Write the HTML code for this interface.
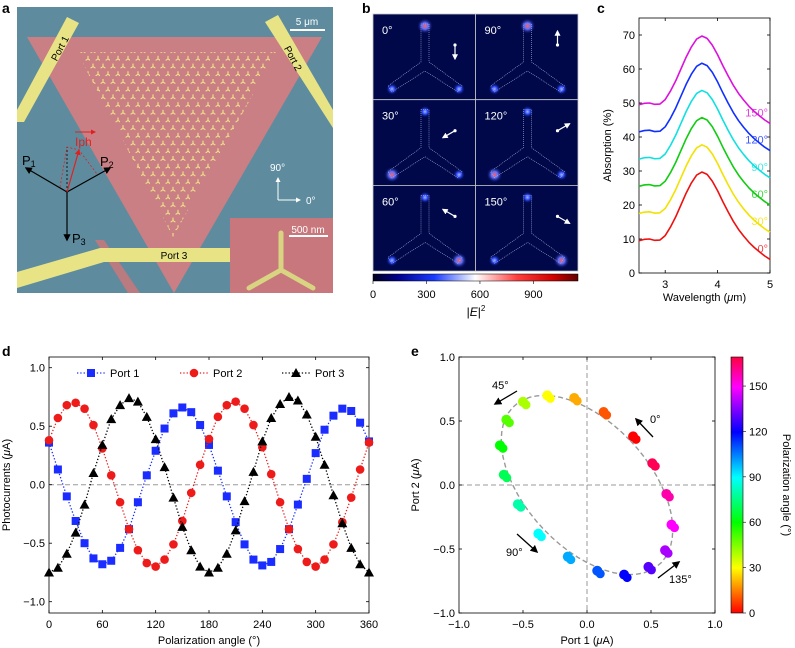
<!DOCTYPE html>
<html><head><meta charset="utf-8">
<style>
html,body{margin:0;padding:0;background:#fff;}
svg{display:block;font-family:"Liberation Sans",Arial,sans-serif;}
</style></head>
<body>
<svg id="fig" width="795" height="648" viewBox="0 0 795 648" xmlns="http://www.w3.org/2000/svg">
<defs>
  <pattern id="trimers" x="0" y="0" width="10" height="15.4" patternUnits="userSpaceOnUse">
    <g stroke="#f2e68a" stroke-width="1.1" fill="none">
      <path d="M3,2 L3,5 M3,5 L0.6,6.5 M3,5 L5.4,6.5"/>
      <path d="M8,9.7 L8,12.7 M8,12.7 L5.6,14.2 M8,12.7 L10.4,14.2"/>
    </g>
  </pattern>
  <linearGradient id="ebar" x1="0" x2="1" y1="0" y2="0">
    <stop offset="0" stop-color="#000020"/>
    <stop offset="0.12" stop-color="#00008a"/>
    <stop offset="0.3" stop-color="#1a3cff"/>
    <stop offset="0.5" stop-color="#ffffff"/>
    <stop offset="0.7" stop-color="#ff4040"/>
    <stop offset="0.88" stop-color="#d00000"/>
    <stop offset="1" stop-color="#600000"/>
  </linearGradient>
  <linearGradient id="pbar" x1="0" x2="0" y1="1" y2="0">
    <stop offset="0" stop-color="#ff0000"/>
    <stop offset="0.176" stop-color="#ffff00"/>
    <stop offset="0.353" stop-color="#00ff00"/>
    <stop offset="0.529" stop-color="#00ffff"/>
    <stop offset="0.706" stop-color="#0000ff"/>
    <stop offset="0.882" stop-color="#ff00ff"/>
    <stop offset="1" stop-color="#ff0040"/>
  </linearGradient>
  <radialGradient id="glowB"><stop offset="0" stop-color="#aab8ff"/><stop offset="0.4" stop-color="#3050ff"/><stop offset="1" stop-color="#000a60" stop-opacity="0"/></radialGradient>
  <radialGradient id="glowR"><stop offset="0" stop-color="#ff6060"/><stop offset="0.4" stop-color="#6070ff"/><stop offset="1" stop-color="#000a60" stop-opacity="0"/></radialGradient>
  <marker id="ahK" viewBox="0 0 10 10" refX="8" refY="5" markerWidth="6" markerHeight="6" orient="auto"><path d="M0,0 L10,5 L0,10 z" fill="#000"/></marker>
  <marker id="ahW" viewBox="0 0 10 10" refX="8" refY="5" markerWidth="5" markerHeight="5" orient="auto"><path d="M0,0 L10,5 L0,10 z" fill="#fff"/></marker>
  <marker id="ahR" viewBox="0 0 10 10" refX="8" refY="5" markerWidth="5" markerHeight="5" orient="auto"><path d="M0,0 L10,5 L0,10 z" fill="#e02020"/></marker>
  <clipPath id="photoClip"><rect x="17" y="7" width="316" height="286"/></clipPath>
</defs>

<!-- Panel a -->
<text x="2" y="13" font-size="14" font-weight="bold">a</text>
<g clip-path="url(#photoClip)">
  <rect x="17" y="7" width="316" height="286" fill="#5e8c9e"/>
  <polygon points="27,37 322,37 174,293" fill="#c97f83"/>
  <polygon points="95,240 104,240 140,293 128,293" fill="#b97a80"/>
  <polygon points="77,52 277,52 173,237" fill="url(#trimers)"/>
  <polygon points="67,17 79,23 24,122 17,122 17,110" fill="#e8e486"/>
  <polygon points="265,22 278,15 333,110 333,128" fill="#e8e486"/>
  <polygon points="17,272 100,248 230,248 230,262 104,262 17,288" fill="#e8e486"/>
  <rect x="230" y="218" width="103" height="75" fill="#c8777c"/>
  <g stroke="#d8d482" stroke-width="5" stroke-linecap="round" fill="none">
    <path d="M281,233 L281,270 M281,270 L249,288 M281,270 L313,288"/>
  </g>
  <line x1="289" y1="236" x2="328" y2="236" stroke="#fff" stroke-width="2"/>
  <text x="308" y="233" font-size="10" fill="#fff" text-anchor="middle">500 nm</text>
  <line x1="290" y1="30" x2="325" y2="30" stroke="#fff" stroke-width="2"/>
  <text x="307" y="25" font-size="10" fill="#fff" text-anchor="middle">5 μm</text>
  <text transform="translate(63,50) rotate(-62)" font-size="10" text-anchor="middle">Port 1</text>
  <text transform="translate(290,60) rotate(62)" font-size="10" text-anchor="middle">Port 2</text>
  <text x="174" y="259" font-size="10" text-anchor="middle">Port 3</text>
  <g>
    <line x1="278" y1="200" x2="278" y2="178" stroke="#fff" stroke-width="1" marker-end="url(#ahW)"/>
    <line x1="278" y1="200" x2="300" y2="200" stroke="#fff" stroke-width="1" marker-end="url(#ahW)"/>
    <text x="270" y="171" font-size="10" fill="#fff">90°</text>
    <text x="306" y="204" font-size="10" fill="#fff">0°</text>
  </g>
  <g>
    <line x1="67" y1="192" x2="26" y2="168" stroke="#000" stroke-width="1.2" marker-end="url(#ahK)"/>
    <line x1="67" y1="192" x2="110" y2="168" stroke="#000" stroke-width="1.2" marker-end="url(#ahK)"/>
    <line x1="67" y1="192" x2="67" y2="240" stroke="#000" stroke-width="1.2" marker-end="url(#ahK)"/>
    <line x1="67" y1="192" x2="67" y2="147" stroke="#000" stroke-width="0.8" stroke-dasharray="2,2"/>
    <polyline points="60,187 67,147 79,150 97,174" fill="none" stroke="#e02020" stroke-width="0.8" stroke-dasharray="2,2"/>
    <line x1="67" y1="192" x2="79" y2="150" stroke="#e02020" stroke-width="1.2" marker-end="url(#ahR)"/>
    <text x="22" y="165" font-size="13">P<tspan font-size="9" dy="2">1</tspan></text>
    <text x="100" y="166" font-size="13">P<tspan font-size="9" dy="2">2</tspan></text>
    <text x="72" y="243" font-size="13">P<tspan font-size="9" dy="2">3</tspan></text>
    <text x="75" y="146" font-size="12" fill="#e02020">Iph</text>
    <line x1="75" y1="132" x2="95" y2="132" stroke="#e02020" stroke-width="1" marker-end="url(#ahR)"/>
  </g>
</g>

<!-- Panel b -->
<text x="362" y="13" font-size="14" font-weight="bold">b</text>
<g id="panelB"></g>
<rect x="373" y="274" width="205" height="7" fill="url(#ebar)" stroke="#000" stroke-width="0.5"/>
<g id="ebarTicks" font-size="11" text-anchor="middle"></g>
<text x="476" y="316" font-size="12" text-anchor="middle">|<tspan font-style="italic">E</tspan>|<tspan font-size="8" dy="-5">2</tspan></text>

<!-- Panel c -->
<text x="597" y="13" font-size="14" font-weight="bold">c</text>
<g id="panelC"></g>

<!-- Panel d -->
<text x="2" y="356" font-size="14" font-weight="bold">d</text>
<g id="panelD"></g>

<!-- Panel e -->
<text x="411" y="356" font-size="14" font-weight="bold">e</text>
<g id="panelE"></g>
</svg>

<script>
const NS = "http://www.w3.org/2000/svg";
function mk(tag, attrs, parent) {
  const el = document.createElementNS(NS, tag);
  for (const k in attrs) el.setAttribute(k, attrs[k]);
  parent.appendChild(el);
  return el;
}

// ---------- Panel b data ----------
const fieldAngles = [0, 90, 30, 120, 60, 150];
const fieldTicks = [0, 300, 600, 900];

// ---------- Panel c data ----------
const wavelengths = [2.5,2.6,2.7,2.8,2.9,3.0,3.1,3.2,3.3,3.4,3.5,3.6,3.7,3.8,3.9,4.0,4.1,4.2,4.3,4.4,4.5,4.6,4.7,4.8,4.9,5.0];
const absorptionBase = [9.5,9.9,10,9.6,9.7,11,13.5,16.5,20,23.5,26.5,28.8,29.7,29,27,24.2,21,18,15.2,12.8,10.8,9,7.5,6.2,5,4];
const absorptionOffsets = [0, 8, 16, 24, 32, 40];
const absorptionLabels = ["0°","30°","60°","90°","120°","150°"];
const absorptionColors = ["#ee1111","#f2e200","#11cc11","#11e0e0","#1030ff","#dd11dd"];
const cYTicks = [0,10,20,30,40,50,60,70];
const cXTicks = [3,4,5];

// ---------- Panel d data ----------
const polAngles = [0,10,20,30,40,50,60,70,80,90,100,110,120,130,140,150,160,170,180,190,200,210,220,230,240,250,260,270,280,290,300,310,320,330,340,350,360];
const port1 = [0.36,0.13,-0.10,-0.31,-0.50,-0.63,-0.68,-0.65,-0.54,-0.38,-0.15,0.08,0.29,0.48,0.61,0.66,0.62,0.51,0.34,0.12,-0.10,-0.32,-0.51,-0.64,-0.69,-0.66,-0.55,-0.38,-0.17,0.05,0.27,0.47,0.59,0.65,0.63,0.53,0.37];
const port2 = [0.38,0.57,0.68,0.70,0.65,0.51,0.31,0.08,-0.15,-0.38,-0.56,-0.67,-0.70,-0.64,-0.51,-0.31,-0.07,0.17,0.39,0.58,0.68,0.71,0.65,0.51,0.32,0.09,-0.15,-0.38,-0.55,-0.66,-0.70,-0.64,-0.51,-0.32,-0.11,0.13,0.36];
const port3 = [-0.75,-0.71,-0.59,-0.41,-0.17,0.10,0.34,0.56,0.68,0.74,0.71,0.58,0.39,0.15,-0.11,-0.36,-0.56,-0.70,-0.75,-0.71,-0.59,-0.39,-0.14,0.11,0.37,0.57,0.69,0.75,0.72,0.60,0.41,0.17,-0.09,-0.33,-0.54,-0.68,-0.75];
const dXTicks = [0,60,120,180,240,300,360];
const dYTicks = [-1.0,-0.5,0.0,0.5,1.0];
const dYTickLabels = ["\u22121.0","\u22120.5","0.0","0.5","1.0"];

// ---------- Panel e data ----------
const eAngleCount = 18; // angles 0..170 taken from polAngles
const eFitAmp = [0.67, 0.70];
const eFitPeak = [150, 30];
const eTicks = [-1.0,-0.5,0.0,0.5,1.0];
const eTickLabels = ["\u22121.0","\u22120.5","0.0","0.5","1.0"];
const cbTicks = [0,30,60,90,120,150];

// ======== Panel b render ========
(function(){
  const g = document.getElementById('panelB');
  const x0 = 373, y0 = 14, w = 102.5, h = 85.7;
  fieldAngles.forEach((ang, i) => {
    const col = i % 2, row = Math.floor(i / 2);
    const tx = x0 + col * w, ty = y0 + row * h;
    const tile = mk('g', {transform:`translate(${tx},${ty})`}, g);
    
    
    mk('rect', {x:0, y:0, width:w, height:h, fill:'#00084a', stroke:'#c8c8c8', 'stroke-width':0.8}, tile);
    // glows at arm ends
    const ends = [[52,12],[19,75],[86,75]];
    const a2 = ang * 2 * Math.PI / 180;
    const pol = [-Math.sin(a2), Math.cos(a2)];
    const arms = [[0,-1],[-0.87,0.5],[0.87,0.5]];
    arms.forEach((v, k) => {
      const s = Math.abs(v[0]*pol[0] + v[1]*pol[1]);
      if (s > 0.45) {
        mk('circle', {cx:ends[k][0], cy:ends[k][1], r:4 + 4*s, fill: s > 0.95 ? 'url(#glowR)' : 'url(#glowB)'}, tile);
      }
    });
    mk('path', {d:'M48,10 L56,10 L56,48 L89,72 L85,78 L52,57 L19,78 L15,72 L48,48 Z', fill:'none', stroke:'#aeb4e0', 'stroke-width':0.6, 'stroke-dasharray':'1,1'}, tile);
    const lab = mk('text', {x:9, y:20, 'font-size':11, fill:'#fff'}, tile);
    lab.textContent = ang + '°';
    
    
    const dx = 82, dy = 31;
    mk('circle', {cx:dx, cy:dy, r:1.6, fill:'#fff'}, tile);
    mk('line', {x1:dx, y1:dy, x2:dx + 14*pol[0], y2:dy + 14*pol[1], stroke:'#fff', 'stroke-width':1.2, 'marker-end':'url(#ahW)'}, tile);
  });
  const tg = document.getElementById('ebarTicks');
  fieldTicks.forEach(t => {
    const x = 373 + t / 1150 * 205;
    mk('line', {x1:x, y1:281, x2:x, y2:284, stroke:'#000', 'stroke-width':0.6}, tg);
    const tt = mk('text', {x:x, y:298}, tg);
    tt.textContent = t;
    
    
  });
})();

// ======== Panel c render ========
(function(){
  const g = document.getElementById('panelC');
  const L = 639, R = 770, T = 18, B = 273;
  const xs = v => L + (v - 2.5) / 2.5 * (R - L);
  const ys = v => B - v / 75 * (B - T);
  const frame = mk('rect', {x:L, y:T, width:R-L, height:B-T, fill:'none', stroke:'#000', 'stroke-width':0.8}, g);
  
  
  cYTicks.forEach(t => {
    const y = ys(t);
    mk('line', {x1:L, y1:y, x2:L+3, y2:y, stroke:'#000', 'stroke-width':0.8}, g);
    mk('line', {x1:R, y1:y, x2:R-3, y2:y, stroke:'#000', 'stroke-width':0.8}, g);
    const tt = mk('text', {x:L-4, y:y+4, 'font-size':11, 'text-anchor':'end'}, g);
    tt.textContent = t;
    
    
  });
  cXTicks.forEach(t => {
    const x = xs(t);
    mk('line', {x1:x, y1:B, x2:x, y2:B-3, stroke:'#000', 'stroke-width':0.8}, g);
    mk('line', {x1:x, y1:T, x2:x, y2:T+3, stroke:'#000', 'stroke-width':0.8}, g);
    const tt = mk('text', {x:x, y:B+15, 'font-size':11, 'text-anchor':'middle'}, g);
    tt.textContent = t;
    
    
  });
  absorptionOffsets.forEach((off, i) => {
    const pts = wavelengths.map((w, k) => xs(w) + ',' + ys(absorptionBase[k] + off)).join(' ');
    const pl = mk('polyline', {points:pts, fill:'none', stroke:absorptionColors[i], 'stroke-width':1.6, 'stroke-linejoin':'round'}, g);
    
    
    const endVal = absorptionBase[absorptionBase.length-1] + off;
    const lb = mk('text', {x:R-2, y:ys(endVal) - 7, 'font-size':11, 'text-anchor':'end', fill:absorptionColors[i], 'fill-opacity':0.8}, g);
    lb.textContent = absorptionLabels[i];
    
    
  });
  const yl = mk('text', {transform:`translate(611,${(T+B)/2}) rotate(-90)`, 'font-size':11, 'text-anchor':'middle'}, g);
  yl.textContent = 'Absorption (%)';
  
  
  const xl = mk('text', {x:(L+R)/2, y:301, 'font-size':11, 'text-anchor':'middle'}, g);
  xl.innerHTML = 'Wavelength (<tspan font-style="italic">μ</tspan>m)';
  
  
})();

// ======== Panel d render ========
(function(){
  const g = document.getElementById('panelD');
  const L = 49, R = 369, T = 357, B = 613;
  const xs = v => L + v / 360 * (R - L);
  const ys = v => 484.7 - v * 117;
  const frame = mk('rect', {x:L, y:T, width:R-L, height:B-T, fill:'none', stroke:'#000', 'stroke-width':0.8}, g);
  
  
  const zl = mk('line', {x1:L, y1:ys(0), x2:R, y2:ys(0), stroke:'#999', 'stroke-width':1, 'stroke-dasharray':'5,3'}, g);
  
  
  dXTicks.forEach(t => {
    const x = xs(t);
    mk('line', {x1:x, y1:B, x2:x, y2:B-3, stroke:'#000', 'stroke-width':0.8}, g);
    mk('line', {x1:x, y1:T, x2:x, y2:T+3, stroke:'#000', 'stroke-width':0.8}, g);
    const tt = mk('text', {x:x, y:B+15, 'font-size':11, 'text-anchor':'middle'}, g);
    tt.textContent = t;
    
    
  });
  dYTicks.forEach((t, i) => {
    const y = ys(t);
    mk('line', {x1:L, y1:y, x2:L+3, y2:y, stroke:'#000', 'stroke-width':0.8}, g);
    mk('line', {x1:R, y1:y, x2:R-3, y2:y, stroke:'#000', 'stroke-width':0.8}, g);
    const tt = mk('text', {x:L-4, y:y+4, 'font-size':11, 'text-anchor':'end'}, g);
    tt.textContent = dYTickLabels[i];
    
    
  });
  const series = [
    {vals:port1, color:'#1a2cff', shape:'square', name:'port-1'},
    {vals:port2, color:'#ee1b1b', shape:'circle', name:'port-2'},
    {vals:port3, color:'#000000', shape:'triangle', name:'port-3'}
  ];
  function marker(shape, x, y, color, parent) {
    if (shape === 'square') return mk('rect', {x:x-4, y:y-4, width:8, height:8, fill:color}, parent);
    if (shape === 'circle') return mk('circle', {cx:x, cy:y, r:4.3, fill:color}, parent);
    return mk('polygon', {points:`${x},${y-5} ${x+5},${y+4} ${x-5},${y+4}`, fill:color}, parent);
  }
  series.forEach(s => {
    const sg = mk('g', {}, g);
    
    
    const pts = polAngles.map((a, k) => xs(a) + ',' + ys(s.vals[k])).join(' ');
    mk('polyline', {points:pts, fill:'none', stroke:s.color, 'stroke-width':1.3, 'stroke-dasharray':'1.3,2'}, sg);
    polAngles.forEach((a, k) => {
      const m = marker(s.shape, xs(a), ys(s.vals[k]), s.color, sg);
      
      
    });
  });
  const legX = [77, 180, 282];
  const legText = ['Port 1','Port 2','Port 3'];
  series.forEach((s, i) => {
    const lg = mk('g', {}, g);
    
    
    mk('line', {x1:legX[i], y1:373, x2:legX[i]+28, y2:373, stroke:s.color, 'stroke-width':1.3, 'stroke-dasharray':'1.3,2'}, lg);
    marker(s.shape, legX[i]+14, 373, s.color, lg);
    const t = mk('text', {x:legX[i]+33, y:377, 'font-size':11}, lg);
    t.textContent = legText[i];
  });
  const yl = mk('text', {transform:`translate(10,${(T+B)/2}) rotate(-90)`, 'font-size':11, 'text-anchor':'middle'}, g);
  yl.innerHTML = 'Photocurrents (<tspan font-style="italic">μ</tspan>A)';
  
  
  const xl = mk('text', {x:(L+R)/2, y:644, 'font-size':11, 'text-anchor':'middle'}, g);
  xl.textContent = 'Polarization angle (°)';
  
  
})();

// ======== Panel e render ========
(function(){
  const g = document.getElementById('panelE');
  const L = 459, R = 715, T = 357, B = 613;
  const xs = v => (L + R) / 2 + v * (R - L) / 2;
  const ys = v => (T + B) / 2 - v * (B - T) / 2;
  const frame = mk('rect', {x:L, y:T, width:R-L, height:B-T, fill:'none', stroke:'#000', 'stroke-width':0.8}, g);
  
  
  mk('line', {x1:L, y1:ys(0), x2:R, y2:ys(0), stroke:'#999', 'stroke-width':1, 'stroke-dasharray':'5,3'}, g);
  mk('line', {x1:xs(0), y1:T, x2:xs(0), y2:B, stroke:'#999', 'stroke-width':1, 'stroke-dasharray':'5,3'}, g);
  eTicks.forEach((t, i) => {
    const x = xs(t), y = ys(t);
    mk('line', {x1:x, y1:B, x2:x, y2:B-3, stroke:'#000', 'stroke-width':0.8}, g);
    mk('line', {x1:x, y1:T, x2:x, y2:T+3, stroke:'#000', 'stroke-width':0.8}, g);
    mk('line', {x1:L, y1:y, x2:L+3, y2:y, stroke:'#000', 'stroke-width':0.8}, g);
    mk('line', {x1:R, y1:y, x2:R-3, y2:y, stroke:'#000', 'stroke-width':0.8}, g);
    const tx = mk('text', {x:x, y:B+15, 'font-size':11, 'text-anchor':'middle'}, g);
    tx.textContent = eTickLabels[i];
    
    
    const ty = mk('text', {x:L-4, y:y+4, 'font-size':11, 'text-anchor':'end'}, g);
    ty.textContent = eTickLabels[i];
    
    
  });
  // fit ellipse
  const fit = [];
  for (let a = 0; a <= 180; a += 3) {
    const r2 = Math.PI / 90;
    fit.push(xs(eFitAmp[0] * Math.cos(r2 * (a - eFitPeak[0]))) + ',' + ys(eFitAmp[1] * Math.cos(r2 * (a - eFitPeak[1]))));
  }
  const fl = mk('polyline', {points:fit.join(' '), fill:'none', stroke:'#999', 'stroke-width':1.4, 'stroke-dasharray':'5,3'}, g);
  
  
  for (let k = 0; k < eAngleCount; k++) {
    const a = polAngles[k];
    const hue = a * 2;
    const color = `hsl(${hue},100%,50%)`;
    const c = mk('circle', {cx:xs(port1[k]), cy:ys(port2[k]), r:5, fill:color}, g);
    
    
    const c2 = mk('circle', {cx:xs(port1[k]) + 3, cy:ys(port2[k]) + 3, r:4.5, fill:color}, g);
    
    
  }
  const arrows = [
    [653,437,636,419,'0°',650,423],
    [517,391,495,404,'45°',492,389],
    [517,534,537,552,'90°',506,556],
    [658,578,679,562,'135°',669,583]
  ];
  arrows.forEach(ar => {
    const ln = mk('line', {x1:ar[0], y1:ar[1], x2:ar[2], y2:ar[3], stroke:'#000', 'stroke-width':1.3, 'marker-end':'url(#ahK)'}, g);
    
    
    const t = mk('text', {x:ar[5], y:ar[6], 'font-size':11}, g);
    t.textContent = ar[4];
    
    
  });
  const cb = mk('rect', {x:731, y:357, width:12, height:256, fill:'url(#pbar)', stroke:'#000', 'stroke-width':0.6}, g);
  
  
  cbTicks.forEach(t => {
    const y = 613 - t * 1.513;
    mk('line', {x1:743, y1:y, x2:746, y2:y, stroke:'#000', 'stroke-width':0.6}, g);
    const tt = mk('text', {x:749, y:y+4, 'font-size':11}, g);
    tt.textContent = t;
    
    
  });
  const cl = mk('text', {transform:'translate(783,485) rotate(90)', 'font-size':11, 'text-anchor':'middle'}, g);
  cl.textContent = 'Polarization angle (°)';
  
  
  const yl = mk('text', {transform:`translate(419,${(T+B)/2}) rotate(-90)`, 'font-size':11, 'text-anchor':'middle'}, g);
  yl.innerHTML = 'Port 2 (<tspan font-style="italic">μ</tspan>A)';
  
  
  const xl = mk('text', {x:(L+R)/2, y:644, 'font-size':11, 'text-anchor':'middle'}, g);
  xl.innerHTML = 'Port 1 (<tspan font-style="italic">μ</tspan>A)';
  
  
})();
</script>
</body></html>
